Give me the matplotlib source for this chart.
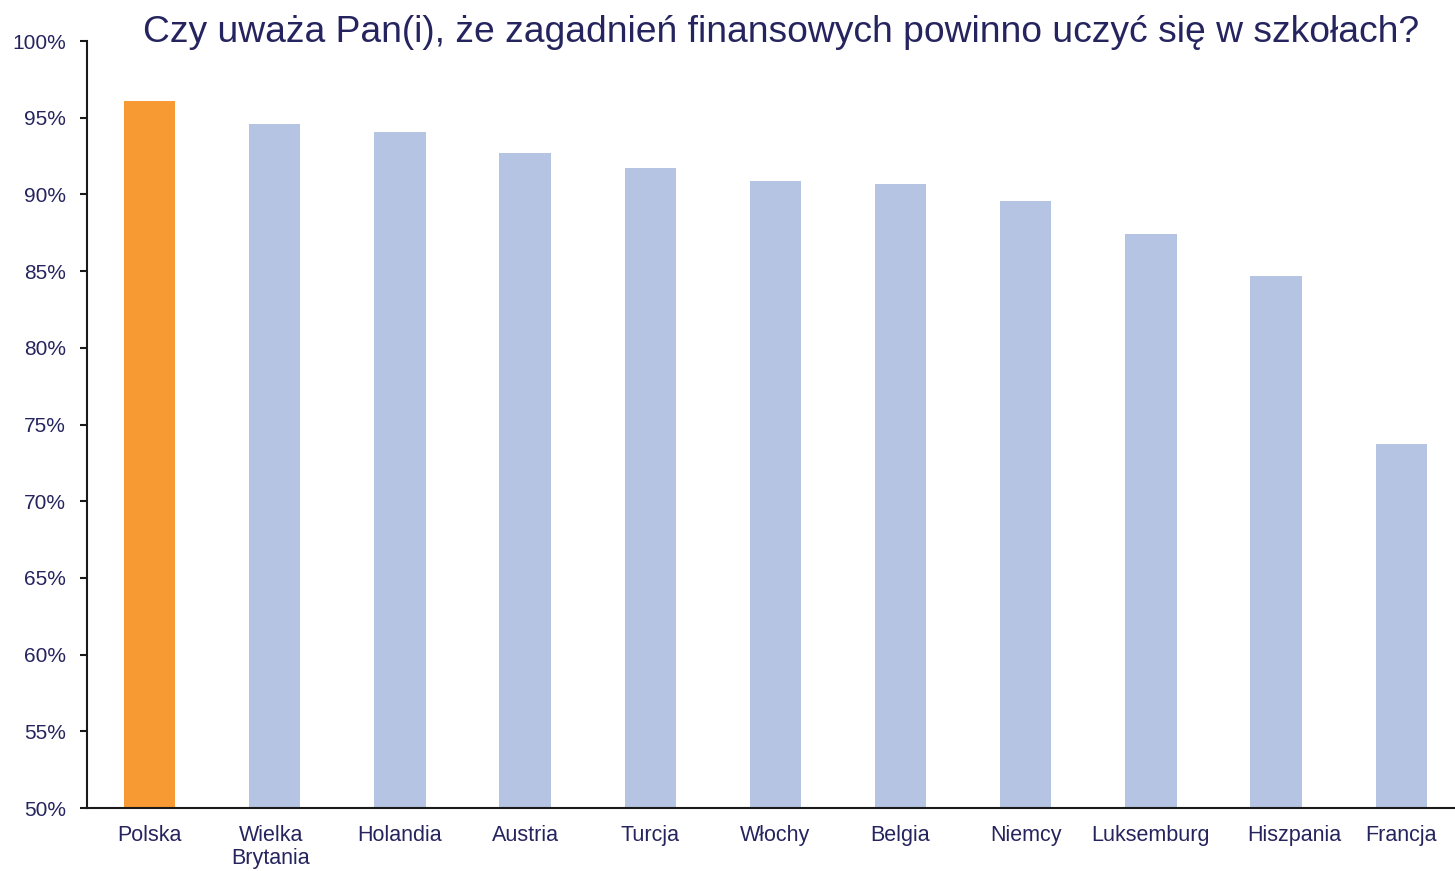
import numpy as np
import matplotlib.pyplot as plt
import matplotlib.transforms as mtransforms
from matplotlib.ticker import PercentFormatter

plt.rcParams['font.family'] = ['Liberation Sans', 'DejaVu Sans']

# dane
kraje = ['Polska', 'Wielka\nBrytania', 'Holandia', 'Austria', 'Turcja', 'Włochy',
         'Belgia', 'Niemcy', 'Luksemburg', 'Hiszpania', 'Francja']
wartosci = [96.1, 94.6, 94.1, 92.7, 91.7, 90.9, 90.7, 89.6, 87.4, 84.7, 73.7]

kolor_tekstu = '#25245E'
kolory = ['#F79A33'] + ['#B4C4E2'] * (len(kraje) - 1)

fig = plt.figure(figsize=(14.55, 8.71), dpi=100)
ax = fig.add_axes([0.0598, 0.0723, 0.9402, 0.8806])

x = np.arange(len(kraje))
ax.bar(x, wartosci, width=0.41, color=kolory, zorder=2)

ax.set_ylim(50, 100)
ax.set_xlim(-0.5, 10.43)
ax.set_yticks(np.arange(50, 101, 5))
ax.yaxis.set_major_formatter(PercentFormatter(decimals=0))
ax.set_xticks(x)
ax.set_xticklabels(kraje, linespacing=1.12)

for s in ['top', 'right']:
    ax.spines[s].set_visible(False)
for s in ['left', 'bottom']:
    ax.spines[s].set_linewidth(1.5)
    ax.spines[s].set_color('#1a1a1a')

ax.tick_params(axis='y', length=5, width=1.5, color='#1a1a1a', labelsize=15,
               labelcolor=kolor_tekstu, pad=10)
ax.tick_params(axis='x', length=0, labelsize=15.5, labelcolor=kolor_tekstu, pad=12)

# etykiety przesunięte lekko jak w oryginale
przesuniecia = {1: -0.04, 9: 0.18}
for i, dx in przesuniecia.items():
    lab = ax.get_xticklabels()[i]
    lab.set_transform(lab.get_transform() + mtransforms.ScaledTranslation(dx, 0, fig.dpi_scale_trans))

fig.text(0.537, 0.963, 'Czy uważa Pan(i), że zagadnień finansowych powinno uczyć się w szkołach?',
         ha='center', va='center', fontsize=26.8, color=kolor_tekstu)

fig.savefig('out.png', dpi=100)
